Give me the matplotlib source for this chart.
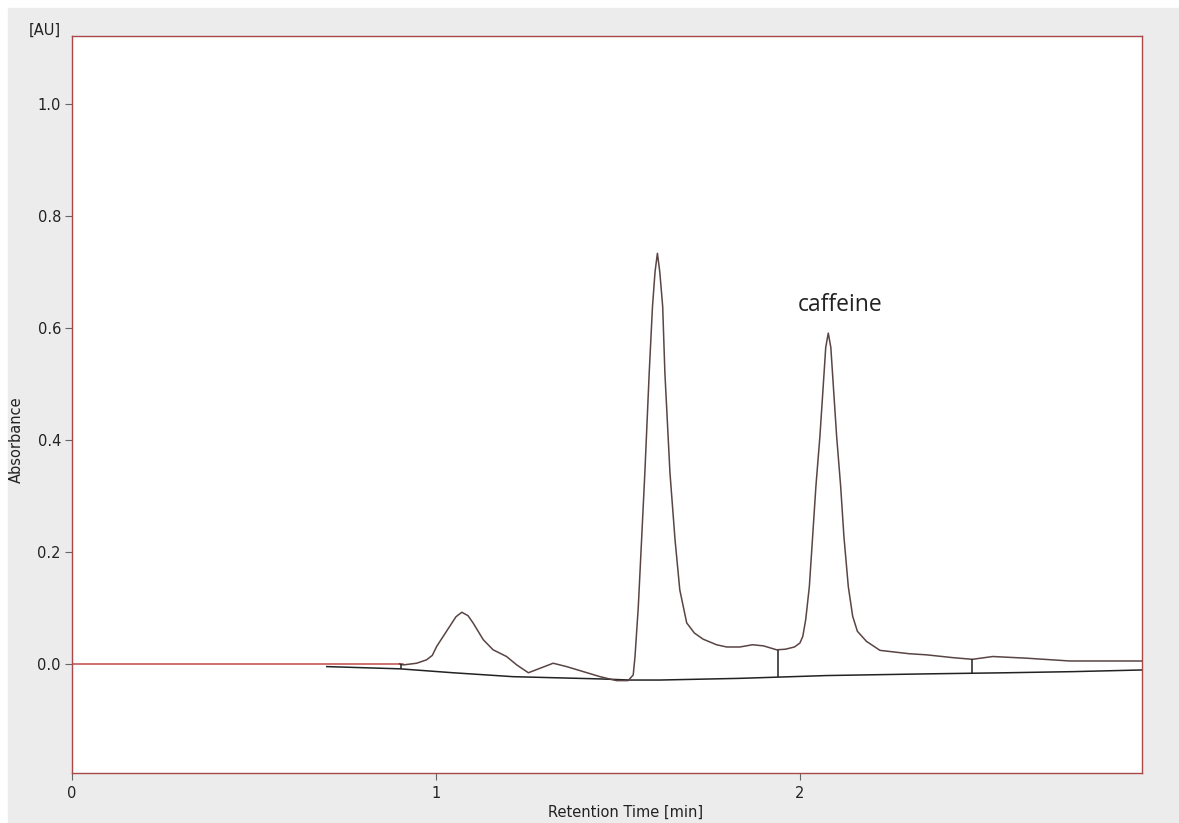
import matplotlib
matplotlib.use("Agg")
import matplotlib.pyplot as plt
from matplotlib.patches import Rectangle

# chromatogram trace (retention time in min, absorbance in AU)
trace_time = [0.900, 0.910, 0.947, 0.974, 0.990, 1.002, 1.029, 1.055, 1.071, 1.088, 1.102, 1.130,
              1.157, 1.194, 1.222, 1.254, 1.286, 1.322, 1.359, 1.405, 1.451, 1.496,
              1.528, 1.542, 1.547, 1.556, 1.565, 1.574, 1.586, 1.595, 1.602, 1.6085, 1.615, 1.623,
              1.629, 1.643, 1.657, 1.670, 1.689, 1.710, 1.734, 1.771, 1.799, 1.835, 1.870,
              1.900, 1.936, 1.960, 1.985, 2.000, 2.008, 2.016, 2.026, 2.035, 2.044,
              2.055, 2.064, 2.071, 2.078, 2.085, 2.092, 2.101, 2.112, 2.121, 2.133, 2.145, 2.158,
              2.183, 2.220, 2.300, 2.348, 2.420, 2.474, 2.530, 2.623, 2.742, 2.942]
trace_abs = [0.000, -0.002, 0.001, 0.007, 0.015, 0.031, 0.058, 0.084, 0.092, 0.086, 0.073, 0.043,
             0.025, 0.013, -0.002, -0.016, -0.008, 0.001, -0.005, -0.014, -0.023, -0.030,
             -0.030, -0.020, 0.013, 0.102, 0.221, 0.341, 0.520, 0.638, 0.700, 0.733, 0.700, 0.638,
             0.520, 0.341, 0.221, 0.132, 0.073, 0.055, 0.044, 0.034, 0.030, 0.030, 0.034,
             0.032, 0.025, 0.026, 0.030, 0.037, 0.049, 0.079, 0.138, 0.227, 0.317,
             0.406, 0.495, 0.565, 0.5905, 0.565, 0.495, 0.406, 0.317, 0.227, 0.138, 0.085, 0.058,
             0.040, 0.024, 0.018, 0.016, 0.011, 0.008, 0.013, 0.010, 0.005, 0.005]

# integration baseline
base_time = [0.700, 0.901, 1.047, 1.212, 1.451, 1.533, 1.615, 1.835, 2.073, 2.348, 2.568, 2.750, 2.942]
base_abs = [-0.005, -0.009, -0.016, -0.023, -0.027, -0.029, -0.029, -0.026, -0.021, -0.018, -0.016, -0.014, -0.011]

# peak separation drop lines: (time, top, bottom)
drop_time = [0.905, 1.939, 2.474]
drop_top = [0.000, 0.025, 0.008]
drop_bottom = [-0.009, -0.024, -0.018]

zero_line_end = 0.91

x_ticks = [0, 1, 2]
y_ticks = [0.0, 0.2, 0.4, 0.6, 0.8, 1.0]

fig = plt.figure(figsize=(11.79, 8.23), dpi=100, facecolor="white")
fig.patches.append(Rectangle((8 / 1179, 0), 1, 1 - 8 / 823, transform=fig.transFigure,
                             color="#ececec", zorder=-1))

ax = fig.add_axes([72 / 1179, 50 / 823, 1070 / 1179, 737 / 823])
ax.set_facecolor("white")
border = "#a84848"
for s in ax.spines.values():
    s.set_color(border)
    s.set_linewidth(1.0)

ax.plot([0, zero_line_end], [0, 0], color="#c04848", lw=1.1)
ax.plot(base_time, base_abs, color="#222222", lw=1.1)
ax.plot(trace_time, trace_abs, color="#5a4444", lw=1.1)
ax.vlines(drop_time, drop_bottom, drop_top, color="#222222", lw=1.1)

ax.text(2.11, 0.641, "caffeine", fontsize=16.5, family="Open Sans", color="#222222",
        ha="center", va="center")

ax.set_xlim(0, 2.94)
ax.set_ylim(-0.195, 1.121)
ax.set_xticks(x_ticks)
ax.set_xticklabels([str(t) for t in x_ticks])
ax.set_yticks(y_ticks)
ax.set_yticklabels(["%.1f" % t for t in y_ticks])
ax.tick_params(axis="both", direction="out", length=5, width=0.8, color="#666666",
               labelsize=10.5, labelcolor="#222222", pad=3)
ax.tick_params(axis="x", pad=4)

fig.text(45 / 1179, 1 - 30 / 823, "[AU]", fontsize=10.5, color="#222222", ha="center", va="center")
fig.text(16 / 1179, 1 - 440 / 823, "Absorbance", fontsize=10.5, color="#222222",
         rotation=90, ha="center", va="center")
fig.text(626 / 1179, 1 - 812 / 823, "Retention Time [min]", fontsize=10.5, color="#222222",
         ha="center", va="center")

fig.savefig("out.png", dpi=100, facecolor=fig.get_facecolor())
